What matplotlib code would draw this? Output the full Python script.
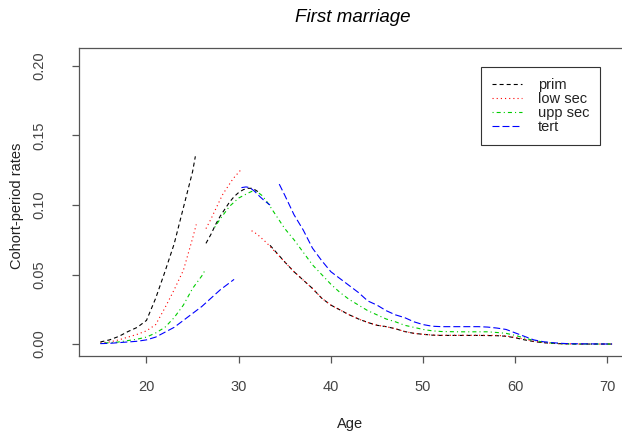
import matplotlib
matplotlib.use("Agg")
import matplotlib.pyplot as plt
from matplotlib.lines import Line2D

plt.rcParams['font.family'] = ['Liberation Sans', 'DejaVu Sans']
plt.rcParams['lines.scale_dashes'] = False

# each group is drawn in pieces (breaks between cohorts)
prim_age = [
    [15, 16, 17, 18, 19, 20, 21, 22, 23, 24, 25, 25.3],
    [26.45, 27, 27.5, 28, 28.5, 29, 29.5, 30, 30.5, 31, 31.5, 32, 32.3],
    [33.4, 34, 35, 36, 37, 38, 39, 40, 41, 42, 43, 44, 45, 46, 47, 48, 49, 50,
     51, 52, 54, 56, 58, 59, 60, 61, 62, 63, 64, 65, 67, 70.5],
]
prim_rate = [
    [0.0015, 0.003, 0.0055, 0.009, 0.012, 0.017, 0.033, 0.052, 0.072, 0.098, 0.124, 0.135],
    [0.0724, 0.079, 0.086, 0.092, 0.097, 0.102, 0.106, 0.109, 0.111, 0.112, 0.112, 0.110, 0.108],
    [0.071, 0.0665, 0.059, 0.052, 0.046, 0.040, 0.033, 0.028, 0.0245, 0.021, 0.018, 0.0155,
     0.0135, 0.0125, 0.011, 0.009, 0.0077, 0.007, 0.0064, 0.0062, 0.0062, 0.0062, 0.006,
     0.0056, 0.0045, 0.003, 0.0018, 0.001, 0.0005, 0.0002, 0.0, 0.0],
]

lowsec_age = [
    [15, 16, 17, 18, 19, 20, 21, 22, 23, 24, 25, 25.4],
    [26.45, 27, 27.5, 28, 28.3, 29, 29.4, 30, 30.2],
    [31.4, 32, 33, 34, 35, 36, 37, 38, 39, 40, 41, 42, 43, 44, 45, 46, 47, 48, 49, 50,
     51, 52, 54, 56, 58, 59, 60, 61, 62, 63, 64, 65, 67, 70.5],
]
lowsec_rate = [
    [0.0008, 0.0015, 0.003, 0.005, 0.007, 0.0095, 0.014, 0.026, 0.039, 0.053, 0.076, 0.086],
    [0.083, 0.090, 0.097, 0.104, 0.108, 0.115, 0.119, 0.1235, 0.125],
    [0.0815, 0.079, 0.073, 0.066, 0.059, 0.052, 0.046, 0.040, 0.033, 0.028, 0.0245, 0.021,
     0.018, 0.0155, 0.0135, 0.0125, 0.011, 0.009, 0.0077, 0.007, 0.0065, 0.0063, 0.0063,
     0.0063, 0.0062, 0.0058, 0.0048, 0.0035, 0.002, 0.0011, 0.0006, 0.0002, 0.0, 0.0],
]

uppsec_age = [
    [15, 16, 17, 18, 19, 20, 21, 22, 23, 24, 25, 26, 26.3],
    [27.4, 28, 29, 30, 31, 31.5, 32, 32.5, 33, 34, 35, 36, 37, 38, 39, 40, 41, 42, 43,
     44, 45, 46, 47, 48, 49, 50, 51, 52, 54, 56, 57, 58, 59, 60, 61, 62, 63, 64, 65,
     66, 70.5],
]
uppsec_rate = [
    [0.0005, 0.001, 0.0015, 0.0025, 0.0035, 0.005, 0.008, 0.012, 0.019, 0.028, 0.040,
     0.049, 0.0525],
    [0.084, 0.090, 0.099, 0.105, 0.1085, 0.110, 0.1095, 0.107, 0.103, 0.093, 0.083,
     0.075, 0.066, 0.057, 0.050, 0.043, 0.037, 0.032, 0.028, 0.024, 0.021, 0.018, 0.016,
     0.0135, 0.012, 0.0105, 0.0095, 0.009, 0.0088, 0.0088, 0.0088, 0.0083, 0.0077,
     0.0062, 0.0043, 0.0026, 0.0015, 0.0007, 0.0003, 0.0, 0.0],
]

tert_age = [
    [15, 16, 17, 18, 19, 20, 21, 22, 23, 24, 25, 26, 27, 28, 29, 29.5],
    [30.3, 30.8, 31.2, 31.7, 32.3, 32.8, 33.4],
    [34.4, 35, 36, 37, 38, 39, 40, 41, 42, 43, 44, 45, 46, 47, 48, 49, 50, 51, 52, 54,
     56, 57, 58, 59, 60, 61, 62, 63, 64, 65, 66, 70.5],
]
tert_rate = [
    [0.0003, 0.0005, 0.001, 0.0015, 0.002, 0.003, 0.005, 0.0085, 0.012, 0.017, 0.022,
     0.027, 0.033, 0.039, 0.044, 0.0465],
    [0.1125, 0.113, 0.1125, 0.110, 0.106, 0.103, 0.100],
    [0.115, 0.107, 0.093, 0.082, 0.069, 0.060, 0.052, 0.047, 0.042, 0.037, 0.031, 0.028,
     0.024, 0.021, 0.019, 0.016, 0.014, 0.0128, 0.0125, 0.0125, 0.0125, 0.0122, 0.0115,
     0.0105, 0.008, 0.0055, 0.003, 0.0017, 0.001, 0.0005, 0.0002, 0.0],
]

labels = ["prim", "low sec", "upp sec", "tert"]
colors = ["black", "red", "#00cd00", "blue"]
# dash patterns in points (R lty 2, 3, 4, 5)
dashes = [(2.9, 2.2), (0.8, 2.2), (0.8, 2.2, 2.9, 2.2), (5.0, 2.2)]

fig = plt.figure(figsize=(6.22, 4.37), dpi=100)
ax = fig.add_axes([79 / 622, 81 / 437, 553 / 622, 308 / 437])

groups = [(prim_age, prim_rate), (lowsec_age, lowsec_rate),
          (uppsec_age, uppsec_rate), (tert_age, tert_rate)]
for (ages, rates), col, ds in zip(groups, colors, dashes):
    for a, r in zip(ages, rates):
        ax.plot(a, r, color=col, lw=0.8, dashes=ds)

ax.set_xlim(12.68, 72.66)
ax.set_ylim(-0.0086, 0.2129)
ax.set_xticks([20, 30, 40, 50, 60, 70])
ax.set_yticks([0.0, 0.05, 0.10, 0.15, 0.20])
ax.set_yticklabels(["0.00", "0.05", "0.10", "0.15", "0.20"], rotation=90, va="center")

for sp in ax.spines.values():
    sp.set_color("#555555")
    sp.set_linewidth(0.9)
ax.tick_params(axis="both", direction="out", length=5, width=0.9, color="#555555",
               labelcolor="#444444", labelsize=10.5)
ax.tick_params(axis="x", pad=12)
ax.tick_params(axis="y", pad=18.5)

fig.text(353 / 622, 1 - 17 / 437, "First marriage", ha="center", va="center",
         fontsize=13.5, style="italic")
fig.text(350 / 622, 1 - 424 / 437, "Age", ha="center", va="center", fontsize=10.5,
         color="#222222")
fig.text(17 / 622, 1 - 206 / 437, "Cohort-period rates", ha="center", va="center",
         rotation=90, fontsize=10.5, color="#222222")

handles = [Line2D([0], [0], color=c, lw=0.8, dashes=d) for c, d in zip(colors, dashes)]
leg = ax.legend(handles, labels, loc="upper right",
                bbox_to_anchor=(600 / 622, 1 - 67 / 437), bbox_transform=fig.transFigure,
                fontsize=10.5, frameon=True, fancybox=False, framealpha=1,
                edgecolor="#333333", borderaxespad=0, handlelength=2.0,
                handletextpad=1.1, labelspacing=0.0, borderpad=0.75)
leg.get_frame().set_linewidth(0.8)
for t in leg.get_texts():
    t.set_color("#222222")

fig.savefig("out.png", dpi=100)
